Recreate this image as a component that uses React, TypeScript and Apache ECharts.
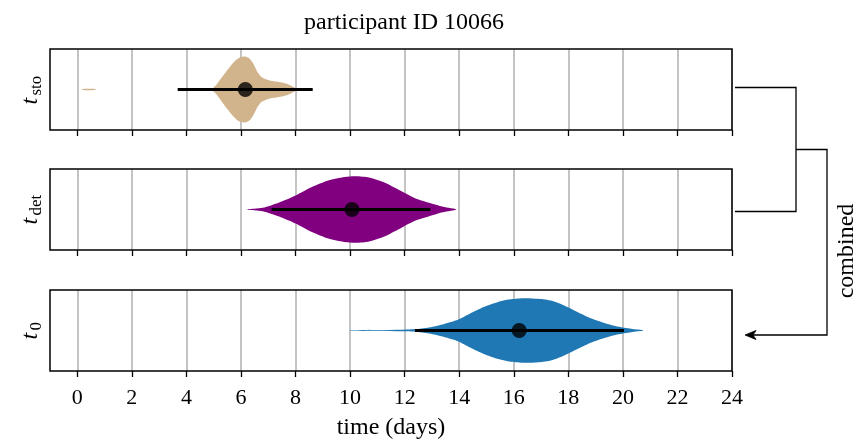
import React, { useEffect, useRef } from "react";
import * as echarts from "echarts";

const TITLE = "participant ID 10066";
const X_NAME = "time (days)";
const TICKS = [0, 2, 4, 6, 8, 10, 12, 14, 16, 18, 20, 22, 24];

// violin profiles: positions (days) and half-widths (axis units, panel half-height = 1)
const stoX = [0.15, 0.3, 0.55, 0.7, 4.95, 5.1, 5.3, 5.5, 5.7, 5.85, 6.0, 6.15, 6.3, 6.45, 6.6, 6.75, 6.9, 7.1, 7.3, 7.5, 7.7, 7.9, 8.05];
const stoW = [0, 0.018, 0.018, 0, 0, 0.12, 0.3, 0.48, 0.65, 0.75, 0.805, 0.815, 0.77, 0.64, 0.44, 0.31, 0.26, 0.215, 0.195, 0.173, 0.136, 0.074, 0];
const detX = [6.2, 6.8, 7.4, 8.0, 8.6, 9.2, 9.8, 10.2, 10.7, 11.3, 11.9, 12.4, 12.9, 13.4, 13.9];
const detW = [0, 0.042, 0.173, 0.346, 0.556, 0.716, 0.802, 0.822, 0.79, 0.654, 0.444, 0.272, 0.165, 0.067, 0];
const t0X = [10.0, 11.9, 12.45, 12.95, 13.45, 13.95, 14.4, 14.9, 15.4, 15.9, 16.4, 16.9, 17.4, 17.85, 18.35, 18.85, 19.35, 19.8, 20.3, 20.75];
const t0W = [0.008, 0.02, 0.037, 0.081, 0.16, 0.264, 0.42, 0.58, 0.699, 0.773, 0.798, 0.783, 0.733, 0.617, 0.452, 0.296, 0.18, 0.099, 0.042, 0];

// interval bars [low, high] and medians
const stoBar = [3.68, 8.63];
const detBar = [7.12, 12.94];
const t0Bar = [12.38, 20.04];
const medians = [6.16, 10.07, 16.2];

const COLORS = ["#D2B48C", "#800080", "#1f77b4"];
const LABEL_SUBS = ["sto", "det", "0"];

const FONT = "Liberation Serif";
const GRID_TOPS = [49, 169, 290];
const GRID_H = 81;

// split a profile into runs separated by consecutive zero widths
function splitRuns(xs: number[], ws: number[]) {
  const runs: number[][] = [];
  let cur: number[] = [];
  for (let k = 0; k < xs.length; k++) {
    cur.push(k);
    if (k < xs.length - 1 && ws[k] === 0 && ws[k + 1] === 0) {
      if (cur.length > 1) runs.push(cur);
      cur = [];
    }
  }
  if (cur.length > 1) runs.push(cur);
  return runs;
}

export default function App() {
  const ref = useRef<HTMLDivElement>(null);
  useEffect(() => {
    if (!ref.current) return;
    const chart = echarts.init(ref.current, undefined, { renderer: "svg" });
    const profiles = [
      [stoX, stoW],
      [detX, detW],
      [t0X, t0W],
    ];
    const bars = [stoBar, detBar, t0Bar];

    const grids = GRID_TOPS.map((top) => ({
      left: 50,
      right: 125,
      top,
      height: GRID_H,
      show: true,
      borderColor: "#000",
      borderWidth: 1.5,
      backgroundColor: "transparent",
      z: 5,
    }));

    const xAxes = GRID_TOPS.map((_, i) => ({
      gridIndex: i,
      type: "value",
      min: -1,
      max: 24,
      position: "bottom",
      axisLine: { show: false, onZero: false },
      axisTick: {
        show: true,
        length: 6,
        customValues: TICKS,
        lineStyle: { color: "#000", width: 1.3 },
      },
      axisLabel: {
        show: i === 2,
        customValues: TICKS,
        fontFamily: FONT,
        fontSize: 22,
        color: "#000",
        margin: 14,
      },
      splitLine: { show: true, lineStyle: { color: "#b0b0b0", width: 1.5 } },
      name: i === 2 ? X_NAME : "",
      nameLocation: "middle",
      nameGap: 43,
      nameTextStyle: { fontFamily: FONT, fontSize: 24, color: "#000" },
    }));

    const yAxes = GRID_TOPS.map((_, i) => ({
      gridIndex: i,
      type: "value",
      min: -1,
      max: 1,
      show: false,
    }));

    const series: any[] = [];
    profiles.forEach(([xs, ws], i) => {
      const runs = splitRuns(xs, ws);
      series.push({
        type: "custom",
        xAxisIndex: i,
        yAxisIndex: i,
        z: 2,
        data: xs.map((x, k) => [x, ws[k]]),
        encode: { x: 0, y: 1 },
        renderItem: (params: any, api: any) => {
          if (params.dataIndex !== 0) return { type: "group", children: [] };
          return {
            type: "group",
            children: runs.map((run) => {
              const upper = run.map((k) => api.coord([xs[k], ws[k]]));
              const lower = run
                .filter((k) => ws[k] !== 0)
                .map((k) => api.coord([xs[k], -ws[k]]))
                .reverse();
              return {
                type: "polygon",
                shape: { points: upper.concat(lower), smooth: 0.25 },
                style: { fill: COLORS[i], stroke: null },
              };
            }),
          };
        },
      });
      series.push({
        type: "line",
        xAxisIndex: i,
        yAxisIndex: i,
        z: 3,
        data: [
          [bars[i][0], 0],
          [bars[i][1], 0],
        ],
        symbol: "none",
        lineStyle: { color: "#000", width: 3 },
      });
      series.push({
        type: "scatter",
        xAxisIndex: i,
        yAxisIndex: i,
        z: 4,
        data: [[medians[i], 0]],
        symbolSize: 15,
        itemStyle: { color: "#000" },
      });
    });

    const yLabels = GRID_TOPS.map((top, i) => {
      const subLen = i === 2 ? 9 : 21;
      const total = 9 + subLen;
      return {
        type: "group",
        x: 29,
        y: top + GRID_H / 2,
        rotation: Math.PI / 2,
        children: [
          {
            type: "text",
            x: -total / 2,
            y: 0,
            style: {
              text: "t",
              font: `italic 24px "${FONT}"`,
              fill: "#000",
              align: "left",
              verticalAlign: "middle",
            },
          },
          {
            type: "text",
            x: -total / 2 + 9,
            y: 6,
            style: {
              text: LABEL_SUBS[i],
              font: `17px "${FONT}"`,
              fill: "#000",
              align: "left",
              verticalAlign: "middle",
            },
          },
        ],
      };
    });

    const option: any = {
      animation: false,
      grid: grids,
      xAxis: xAxes,
      yAxis: yAxes,
      series,
      graphic: [
        {
          type: "text",
          x: 404,
          y: 20.5,
          style: {
            text: TITLE,
            font: `24px "${FONT}"`,
            fill: "#000",
            align: "center",
            verticalAlign: "middle",
          },
        },
        ...yLabels,
        {
          type: "polyline",
          shape: { points: [[735, 87.5], [796, 87.5], [796, 211.5], [735, 211.5]] },
          style: { stroke: "#000", lineWidth: 1.3, fill: null },
        },
        {
          type: "polyline",
          shape: { points: [[796, 149.5], [827, 149.5], [827, 335], [752, 335]] },
          style: { stroke: "#000", lineWidth: 1.3, fill: null },
        },
        {
          type: "polygon",
          shape: { points: [[745, 335], [756, 330.5], [753, 335], [756, 339.5]] },
          style: { fill: "#000", stroke: "#000", lineWidth: 0.8 },
        },
        {
          type: "text",
          x: 845,
          y: 251,
          rotation: Math.PI / 2,
          style: {
            text: "combined",
            font: `24px "${FONT}"`,
            fill: "#000",
            align: "center",
            verticalAlign: "middle",
          },
        },
      ],
    };
    chart.setOption(option);
    return () => chart.dispose();
  }, []);
  return (
    <div
      ref={ref}
      style={{ position: "fixed", left: 0, top: 0, width: 857, height: 443 }}
    />
  );
}
